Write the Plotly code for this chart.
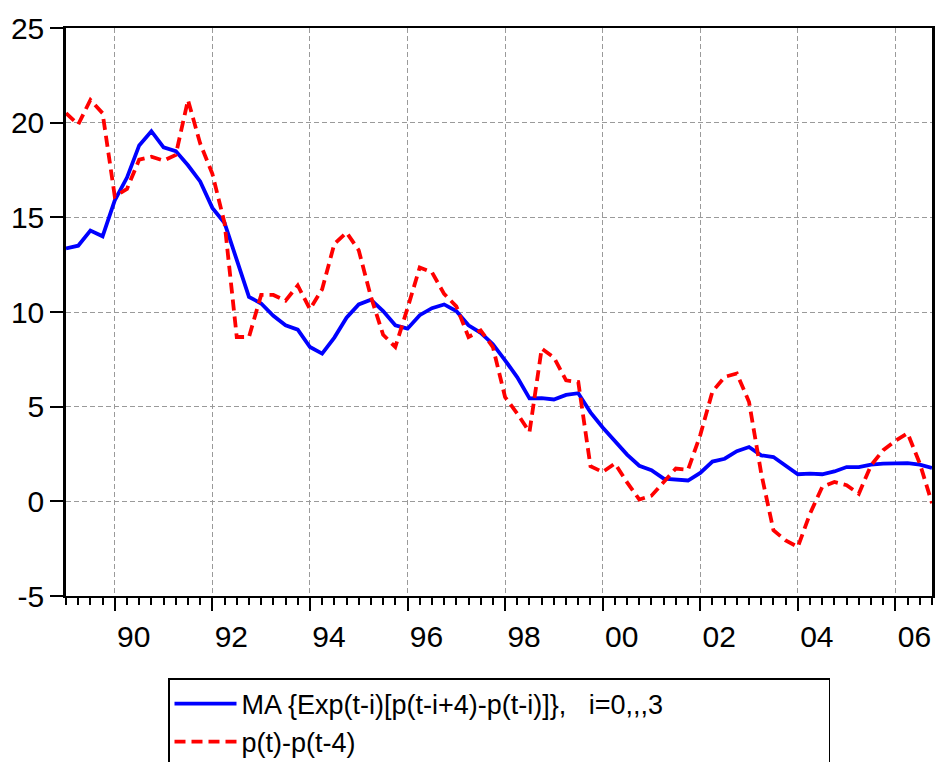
import plotly.graph_objects as go

# Quarterly observations 1989Q1 - 2006Q4
years = list(range(1989, 2007))
quarters = [1, 2, 3, 4]

ma_expected = [
    13.36, 13.5, 14.3, 14.0,      # 1989
    15.9, 17.1, 18.8, 19.55,      # 1990
    18.7, 18.5, 17.75, 16.9,      # 1991
    15.5, 14.7, 12.75, 10.8,      # 1992
    10.45, 9.8, 9.3, 9.07,        # 1993
    8.15, 7.8, 8.65, 9.7,         # 1994
    10.4, 10.65, 10.05, 9.3,      # 1995
    9.12, 9.83, 10.2, 10.4,       # 1996
    10.05, 9.3, 8.9, 8.3,         # 1997
    7.45, 6.55, 5.44, 5.45,       # 1998
    5.38, 5.62, 5.71, 4.7,        # 1999
    3.9, 3.21, 2.47, 1.88,        # 2000
    1.65, 1.2, 1.15, 1.1,         # 2001
    1.5, 2.1, 2.25, 2.65,         # 2002
    2.87, 2.43, 2.34, 1.9,        # 2003
    1.43, 1.46, 1.43, 1.58,       # 2004
    1.81, 1.81, 1.94, 1.99,       # 2005
    2.02, 2.02, 1.94, 1.76,       # 2006
]

annual_change = [
    20.5, 19.9, 21.2, 20.5,       # 1989
    16.1, 16.5, 18.05, 18.2,      # 1990
    18.0, 18.3, 21.2, 18.9,       # 1991
    17.3, 14.7, 8.68, 8.68,       # 1992
    10.9, 10.9, 10.6, 11.4,       # 1993
    10.15, 11.2, 13.6, 14.2,      # 1994
    13.26, 10.8, 8.8, 8.15,       # 1995
    10.2, 12.35, 12.1, 10.96,     # 1996
    10.3, 8.68, 9.03, 8.15,       # 1997
    5.5, 4.63, 3.66, 8.07,        # 1998
    7.6, 6.39, 6.3, 1.85,         # 1999
    1.55, 2.0, 1.0, 0.1,          # 2000
    0.3, 1.0, 1.73, 1.67,         # 2001
    3.5, 5.8, 6.57, 6.75,         # 2002
    5.25, 1.47, -1.53, -2.06,     # 2003
    -2.41, -0.65, 0.76, 1.02,     # 2004
    0.85, 0.4, 1.9, 2.7,          # 2005
    3.2, 3.6, 2.0, -0.1,          # 2006
]

label_years = list(range(1990, 2007, 2))
tick_labels = ["90", "92", "94", "96", "98", "00", "02", "04", "06"]
odd_years = list(range(1991, 2007, 2))
y_ticks = [-5, 0, 5, 10, 15, 20, 25]
y_tick_labels = ["-5", "0", "5", "10", "15", "20", "25"]

series_names = ["MA {Exp(t-i)[p(t-i+4)-p(t-i)]},\u00a0\u00a0 i=0,,,3", "p(t)-p(t-4)"]

t = [y + (q - 1) / 4 for y in years for q in quarters]

FONT = "Liberation Sans, Arial, sans-serif"

fig = go.Figure()
fig.add_trace(go.Scatter(x=t, y=ma_expected, mode="lines", name=series_names[0],
                         line=dict(color="#0000ff", width=3.8)))
fig.add_trace(go.Scatter(x=t, y=annual_change, mode="lines", name=series_names[1],
                         line=dict(color="#ff0000", width=3.8, dash="11px,6px")))

grid_color = "#9a9a9a"

fig.update_layout(
    width=936, height=762,
    margin=dict(l=66, r=4, t=28, b=166, autoexpand=False),
    paper_bgcolor="white", plot_bgcolor="white",
    font=dict(family=FONT, size=30, color="black"),
    showlegend=True,
    legend=dict(x=0.5, xanchor="center", y=-0.1444, yanchor="top",
                orientation="h", entrywidth=582, entrywidthmode="pixels",
                itemwidth=62,
                bordercolor="black", borderwidth=1.5, bgcolor="white",
                font=dict(size=27), tracegroupgap=0),
    xaxis=dict(
        range=[1989, 2006.75],
        tickmode="array", tickvals=label_years, ticktext=tick_labels,
        ticks="outside", ticklen=13, tickwidth=1.5, tickcolor="black",
        ticklabelshift=19,
        showgrid=True, gridcolor=grid_color, griddash="5px,3px", gridwidth=1,
        showline=True, linecolor="black", linewidth=2, mirror=True,
        zeroline=False,
        minor=dict(tick0=1989, dtick=0.25, ticks="outside", ticklen=7,
                   tickwidth=1.5, tickcolor="black", showgrid=False),
    ),
    xaxis2=dict(
        overlaying="x", matches="x", anchor="y", side="bottom",
        tickmode="array", tickvals=odd_years, showticklabels=False,
        ticks="outside", ticklen=13, tickwidth=1.5, tickcolor="black",
        showgrid=False, showline=False, zeroline=False,
    ),
    yaxis=dict(
        range=[-5, 25], tickmode="array", tickvals=y_ticks, ticktext=y_tick_labels,
        ticks="outside", ticklen=13, tickwidth=1.5, tickcolor="black",
        showgrid=True, gridcolor=grid_color, griddash="5px,3px", gridwidth=1,
        showline=True, linecolor="black", linewidth=2.5, mirror=True,
        zeroline=False,
    ),
)

# remove the default page margin so the figure sits at the window's top-left corner
fig.write_html(
    "out.html",
    config={"displayModeBar": False},
    post_script="document.body.style.margin='0';document.body.style.overflow='hidden';",
)
